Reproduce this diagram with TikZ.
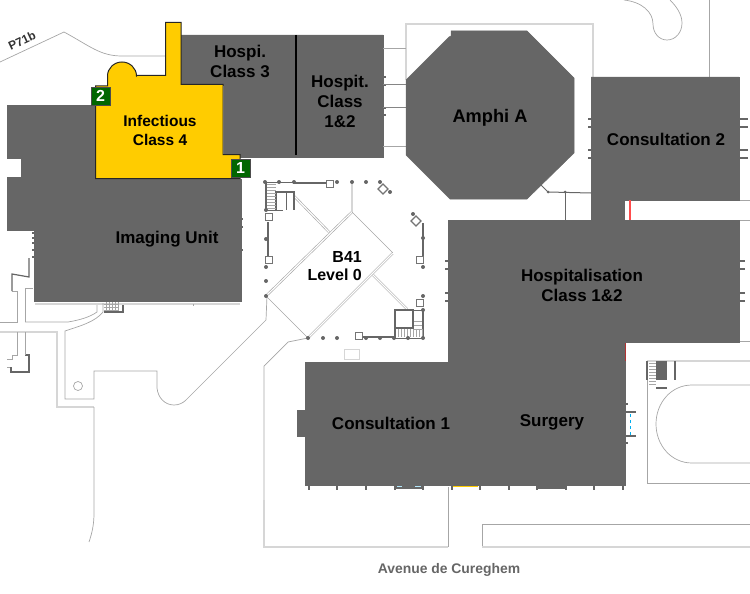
\documentclass[tikz,border=0pt]{standalone}
\usepackage{fontspec}
\setmainfont{Liberation Sans}
\definecolor{blockgray}{HTML}{666666}
\definecolor{wallgray}{HTML}{D6D6D6}
\definecolor{linegray}{HTML}{A6A6A6}
\definecolor{infectyellow}{HTML}{FFCC00}
\definecolor{badgegreen}{HTML}{006600}
\tikzset{
  block/.style={fill=blockgray, draw=blockgray, line width=0.5pt},
  thinline/.style={draw=linegray, line width=0.7pt},
  wall/.style={draw=wallgray, line width=1.6pt},
  darkwall/.style={draw=blockgray, line width=2.2pt},
  pier/.style={draw=blockgray, line width=2pt},
  doublewall/.style={draw=linegray, double=white, double distance=1.2pt, line width=0.6pt},
  post/.style={circle, fill=blockgray, inner sep=0pt, minimum size=4pt},
  postbox/.style={draw=linegray!70!black, fill=white, line width=1.1pt},
  roomlabel/.style={font=\fontsize{17}{20}\selectfont\bfseries, text=black, align=center, inner sep=0pt},
  smalllabel/.style={font=\fontsize{15.5}{19}\selectfont\bfseries, text=black, align=center, inner sep=0pt},
  badge/.style={fill=badgegreen, draw=black!70, line width=0.4pt, text=white, font=\fontsize{16}{16}\selectfont\bfseries, minimum width=18.5pt, minimum height=18.5pt, inner sep=0pt}
}
\begin{document}
\begin{tikzpicture}[x=1pt, y=-1pt]
    \useasboundingbox (0,0) rectangle (750,594);

    % Outer ground lines
    \draw[thinline] (0,62) -- (64,32) .. controls (90,46) and (100,56) .. (122,56) -- (166,56);
    \draw[wall] (406,80) -- (406,24) -- (593,24) -- (593,77);
    \draw[thinline] (624,0) .. controls (642,2) and (653,12) .. (653,24) .. controls (653,33) and (659,40) .. (667,40) .. controls (676,40) and (682,32) .. (682,23) .. controls (682,14) and (676,6) .. (670,0);
    \draw[thinline] (709,0) -- (709,77);
    \draw[thinline] (739,200) -- (750,200);
    \draw[thinline] (739,220) -- (750,220);
    \draw[thinline] (739,341) -- (750,341);

    % Lines round Imaging Unit
    \draw[wall] (35,304) -- (240,304);
    \draw[thinline] (0,322) -- (17,322) -- (17,291) -- (12,291);
    \draw[pier, line width=1.2pt] (12,291) -- (12,274) -- (29,277) -- (29,258);
    \draw[thinline] (25,322) -- (68,322) .. controls (80,320) and (90,317) .. (97,312) -- (97,305);
    \draw[thinline] (25,322) -- (25,288) -- (33,288);
    \draw[wall] (0,332) -- (57,332) -- (57,407) -- (94,407);
    \draw[thinline] (17,332) -- (17,355) -- (12,355) -- (12,359) -- (7,359);
    \draw[thinline] (7,367) -- (11,367);
    \draw[pier, line width=1.2pt] (11,367) -- (11,372) -- (29,372) -- (29,355) -- (25,355);
    \draw[thinline] (25,355) -- (25,332);
    \draw[thinline] (94,407) -- (94,513) .. controls (94,525) and (92,533) .. (89,542);
    \draw[thinline] (103,303) -- (103,312) .. controls (95,322) and (80,326) .. (65,331) -- (65,399) -- (94,399) -- (94,371) -- (157,371) -- (157,388) .. controls (158,398) and (165,405) .. (174,405) .. controls (179,405) and (183,403) .. (186,400) -- (266,320) -- (267,296);
    \draw[thinline] (78,386) circle (4.5);
    \draw[thinline] (193,304) -- (193,306);
    \foreach \gx in {106,109,...,118}
        \draw[linegray, line width=0.4pt] (\gx,302) -- (\gx,311);
    \foreach \gy in {304,307,310}
        \draw[linegray, line width=0.4pt] (104,\gy) -- (118,\gy);
    \draw[pier, line width=1.2pt] (104,312) -- (123,312) -- (123,305);

    % Lines round the lower buildings
    \draw[thinline] (308,338) -- (288,342) -- (264,366) -- (264,500);
    \draw[wall] (264,500) -- (264,547) -- (448,547);
    \draw[thinline] (448,547) -- (448,487);
    \draw[thinline] (750,524) -- (482,524) -- (482,547);
    \draw[wall] (482,547) -- (750,547);
    \draw[thinline, draw=wallgray] (344,349) rectangle (359,359);

    % Track
    \draw[wall] (647,361) -- (750,361);
    \draw[thinline] (647,361) -- (647,483) -- (750,483);
    \draw[thinline] (750,385) -- (692,385) .. controls (671,385) and (656,403) .. (656,424) .. controls (656,445) and (671,463) .. (692,463) -- (750,463);
    \fill[blockgray] (656,361) rectangle (667,380);
    \draw[pier, line width=1.2pt] (647,361) -- (647,380);
    \draw[pier, line width=1.2pt] (675,361) -- (675,380);
    \draw[pier, line width=1.2pt] (656,388) -- (667,388);
    \foreach \gy in {363,366,...,384}
        \draw[linegray, line width=0.4pt] (649,\gy) -- (656,\gy);

    % Hospi block
    \draw[block] (181,35) -- (383,35) -- (383,157) -- (224,157) -- (224,85) -- (181,85) -- cycle;
    \draw[black, line width=1.5pt] (296,35) -- (296,155);
    \foreach \ty in {77,85,108,115}
        \draw[pier] (383,\ty) -- (386,\ty);
    \draw[thinline] (383,48) -- (406,48);
    \draw[pier, line width=1pt, draw=linegray!80!black] (383,85) -- (406,85);
    \draw[pier, line width=1pt, draw=linegray!80!black] (383,107) -- (406,107);
    \draw[thinline] (383,146) -- (406,146);

    % Imaging Unit
    \draw[block] (7,105) -- (96,105) -- (96,179) -- (241,179) -- (241,301) -- (34,301) -- (34,230) -- (7,230) -- (7,177) -- (21,177) -- (21,158) -- (7,158) -- cycle;
    \foreach \ty in {233,238,243,250,257}
        \draw[pier] (34,\ty) -- (32,\ty);
    \foreach \ty in {219,227,250}
        \draw[pier] (241,\ty) -- (243,\ty);

    % Infectious Class 4
    \draw[fill=infectyellow, draw=black!85, line width=1pt] (165.5,22.5) -- (181,22.5) -- (181,84.5) -- (223,84.5) -- (223,154.5) -- (240,154.5) -- (240,178.5) -- (95.5,178.5) -- (95.5,86) -- (107.5,86) -- (107.5,76) arc[start angle=180, end angle=0, x radius=14.5, y radius=-14] -- (137,75.5) -- (165.5,75.5) -- cycle;

    % Amphi A
    \draw[block] (451,31) -- (527,31) -- (574,78) -- (574,153) -- (527,199) -- (450,199) -- (406,155) -- (406,80) -- (449,37) -- (451,36) -- cycle;
    \draw[pier, line width=1pt] (540,184) -- (548,192) -- (591,193);
    \draw[thinline, draw=blockgray] (565,192) -- (565,220);
    \node[post, minimum size=3pt] (amphipostA) at (548,192) {};
    \node[post, minimum size=3pt] (amphipostB) at (565,192) {};

    % Main hospital block
    \draw[block] (591,77) -- (739,77) -- (739,200) -- (624,200) -- (624,220) -- (739,220) -- (739,342) -- (625,342) -- (625,485) -- (305,485) -- (305,362) -- (448,362) -- (448,220) -- (591,220) -- cycle;
    \fill[blockgray] (297,410) rectangle (305,437);
    \fill[blockgray] (395,485) rectangle (423,489);
    \fill[blockgray] (537,485) rectangle (566,489);
    \draw[draw=red!70!white, line width=1.6pt] (630,200) -- (630,220);
    \draw[draw=red!50!blockgray, line width=0.6pt] (625,343) -- (625,361);
    \foreach \ty in {119,127,150,158} {
        \draw[pier] (739,\ty) -- (748,\ty);
        \draw[pier] (591,\ty) -- (588,\ty);
    }
    \foreach \ty in {261,269,293,301} {
        \draw[pier] (739,\ty) -- (745,\ty);
        \draw[pier] (448,\ty) -- (445,\ty);
    }
    \foreach \tx in {309,337,366,395,423,452,480,509,537,566,594,623}
        \draw[pier, line width=2.6pt] (\tx,485) -- (\tx,490);
    \draw[draw=infectyellow, line width=1.4pt] (453,486.5) -- (478,486.5);
    \draw[draw=cyan!30, line width=1pt] (397,486) -- (402,486);
    \draw[draw=cyan!30, line width=1pt] (415,486) -- (421,486);
    \foreach \ty/\tx in {404/628,412/636,436/636,443/628}
        \draw[pier] (625,\ty) -- (\tx,\ty);
    \draw[draw=cyan, dashed, line width=1pt] (630.5,414) -- (630.5,435);

    % B41
    \draw[doublewall] (266,296) -- (352,212);
    \draw[doublewall] (308,338) -- (393,253);
    \draw[thinline] (352,212) -- (393,253);
    \draw[thinline] (266,296) -- (308,338);
    \draw[wall] (352,182) -- (352,212);
    \draw[doublewall] (294,196) -- (329,232);
    \draw[doublewall] (373,275) -- (407,309);
    \draw[doublewall] (393,253) -- (423,253);
    \draw[darkwall] (423,223) -- (423,257);
    \draw[darkwall] (268,222) -- (268,257);
    \draw[darkwall] (293,183) -- (326,183);
    \draw[darkwall] (363,337) -- (395,337);
    \draw[darkwall] (266,182) -- (266,210);
    \draw[darkwall] (276,211) -- (276,192) -- (294,192) -- (294,210);
    \draw[pier, line width=1pt] (266,210) -- (283,210);
    \draw[pier, line width=1pt] (286,192) -- (286,210);
    \draw[pier, line width=1pt] (266,182) -- (294,182);
    \draw[darkwall] (395,310) rectangle (413,328);
    \draw[darkwall] (395,328) -- (395,338);
    \draw[darkwall] (423,310) -- (423,338);
    \draw[pier, line width=1pt] (395,338) -- (423,338);
    \draw[pier, line width=1pt] (413,310) -- (423,310);
    \foreach \gy in {184,187,...,208}
        \draw[linegray, line width=0.4pt] (267,\gy) -- (276,\gy);
    \foreach \gx in {398,401,...,422}
        \draw[linegray, line width=0.4pt] (\gx,329) -- (\gx,337);
    \foreach \gy in {321,325,329}
        \draw[linegray, line width=0.4pt] (414,\gy) -- (422,\gy);
    \foreach \bx/\by in {330/184,269/217,269/260,420/260,420/303,359/336}
        \draw[postbox] (\bx-3.5,\by-3.5) rectangle (\bx+3.5,\by+3.5);
    \foreach \bx/\by in {383/189,416/221}
        \draw[postbox] (\bx,\by-5) -- (\bx+5,\by) -- (\bx,\by+5) -- (\bx-5,\by) -- cycle;
    \foreach \px/\py [count=\pi] in {265/182,279/182,294/182,337/182,352/182,366/182,380/182,390/192,413/214,423/238,423/267,423/296,423/310,423/338,408/338,394/338,380/338,366/338,337/338,323/338,308/338,266/296,266/281,266/267,266/239,266/210}
        \node[post] (buildingpost\pi) at (\px,\py) {};

    % Badges
    \node[badge] (badgeone) at (240.5,168) {1};
    \node[badge] (badgetwo) at (100.5,96) {2};

    % Labels
    \node[roomlabel] (hospithree) at (240,61) {Hospi.\\Class 3};
    \node[roomlabel] (hospione) at (340,101) {Hospit.\\Class\\1\&2};
    \node[roomlabel, font=\fontsize{18.2}{20}\selectfont\bfseries] (amphi) at (490,118) {Amphi A};
    \node[roomlabel] (constwo) at (666,139) {Consultation 2};
    \node[smalllabel] (infectious) at (160,130) {Infectious\\Class 4};
    \node[roomlabel] (imaging) at (167,239) {Imaging Unit};
    \node[roomlabel, font=\fontsize{16}{18.5}\selectfont\bfseries, align=right, anchor=east] (bfortyone) at (362,266) {B41\\Level 0};
    \node[roomlabel] (hospitalisation) at (582,285) {Hospitalisation\\Class 1\&2};
    \node[roomlabel] (consone) at (391,423) {Consultation 1};
    \node[roomlabel] (surgery) at (552,422) {Surgery};
    \node[font=\fontsize{13.9}{14}\selectfont\bfseries, text=black!60, inner sep=0pt] (avenue) at (449,570) {Avenue de Cureghem};
    \node[font=\fontsize{12}{12}\selectfont\bfseries, text=black!80, rotate=25, inner sep=0pt] (parking) at (22,41) {P71b};
\end{tikzpicture}
\end{document}
